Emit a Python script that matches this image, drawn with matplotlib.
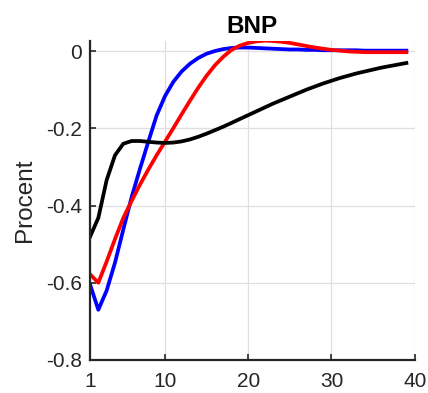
import numpy as np
import matplotlib.pyplot as plt

plt.rcParams['font.family'] = ['Liberation Sans', 'DejaVu Sans']

# quarters after the shock
kvartal = np.arange(1, 40)

# response of BNP, one line per scenario
bnp_blaa = [-0.604, -0.670, -0.620, -0.548, -0.462, -0.378, -0.305, -0.235, -0.167,
            -0.117, -0.080, -0.053, -0.033, -0.018, -0.007, 0.000, 0.005, 0.008,
            0.009, 0.009, 0.008, 0.007, 0.006, 0.005, 0.004, 0.004, 0.003, 0.003,
            0.002, 0.002, 0.002, 0.002, 0.002, 0.001, 0.001, 0.001, 0.001, 0.001, 0.001]
bnp_roed = [-0.578, -0.600, -0.545, -0.487, -0.432, -0.388, -0.346, -0.307, -0.270,
            -0.235, -0.200, -0.164, -0.129, -0.095, -0.064, -0.037, -0.015, 0.003,
            0.014, 0.021, 0.025, 0.027, 0.026, 0.024, 0.021, 0.017, 0.013, 0.009,
            0.006, 0.003, 0.001, -0.001, -0.002, -0.003, -0.003, -0.003, -0.003,
            -0.003, -0.003]
bnp_sort = [-0.481, -0.432, -0.334, -0.270, -0.240, -0.233, -0.233, -0.235, -0.237,
            -0.238, -0.237, -0.234, -0.229, -0.222, -0.214, -0.205, -0.196, -0.186,
            -0.176, -0.166, -0.156, -0.146, -0.136, -0.127, -0.118, -0.109, -0.100,
            -0.092, -0.084, -0.077, -0.070, -0.064, -0.058, -0.053, -0.048, -0.043,
            -0.039, -0.035, -0.031]

xticks = [1, 10, 20, 30, 40]
yticks = [-0.8, -0.6, -0.4, -0.2, 0]

fig = plt.figure(figsize=(4.28, 3.93), dpi=100)
ax = fig.add_axes([0.2103, 0.0840, 0.7586, 0.8117])

ax.plot(kvartal, bnp_blaa, color='#0000ff', lw=2.7)
ax.plot(kvartal, bnp_roed, color='#ff0000', lw=2.7)
ax.plot(kvartal, bnp_sort, color='#000000', lw=2.7)

ax.set_xlim(1, 40)
ax.set_ylim(-0.8, 0.026)
ax.set_xticks(xticks)
ax.set_yticks(yticks)
ax.set_yticklabels(['-0.8', '-0.6', '-0.4', '-0.2', '0'])

ax.grid(True, color='#dfdfdf', lw=0.9)
ax.set_axisbelow(True)
for side in ['top', 'right']:
    ax.spines[side].set_visible(False)
for side in ['left', 'bottom']:
    ax.spines[side].set_color('#262626')
    ax.spines[side].set_linewidth(1.6)

ax.tick_params(direction='in', length=4, width=1.2, colors='#262626', labelsize=15)
ax.tick_params(axis='y', pad=6)
ax.tick_params(axis='x', pad=9)

ax.set_title('BNP', fontsize=17.5, fontweight='bold', pad=6)
ax.set_ylabel('Procent', fontsize=17.5, color='#262626', labelpad=7)

fig.savefig('out.png', dpi=100)
